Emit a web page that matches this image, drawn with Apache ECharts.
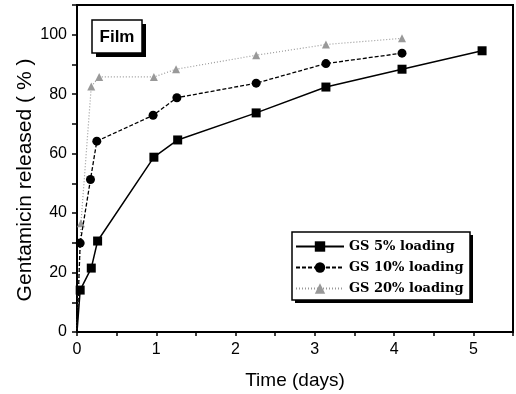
<!DOCTYPE html>
<html>
<head>
<meta charset="utf-8">
<script src="https://cdn.jsdelivr.net/npm/echarts@6/dist/echarts.min.js"></script>
<style>
  html, body { margin: 0; padding: 0; background: #fff; }
  #chart { width: 516px; height: 394px; }
</style>
</head>
<body>
<div id="chart"></div>
<script>
// release data (x = days, y = % released)
const seriesNames = ['GS 5% loading', 'GS 10% loading', 'GS 20% loading']
const days5 = [0, 0.04, 0.18, 0.26, 0.97, 1.27, 2.26, 3.14, 4.1, 5.11]
const gs5 = [0, 14.1, 21.5, 30.6, 58.8, 64.6, 73.7, 82.4, 88.4, 94.6]
const days10 = [0, 0.04, 0.17, 0.25, 0.96, 1.26, 2.26, 3.14, 4.1]
const gs10 = [0, 29.9, 51.3, 64.2, 72.9, 78.8, 83.7, 90.3, 93.8]
const days20 = [0, 0.05, 0.18, 0.28, 0.97, 1.25, 2.26, 3.14, 4.1]
const gs20 = [0, 36.6, 82.6, 85.8, 85.8, 88.4, 93.1, 96.7, 98.8]

const chart = echarts.init(document.getElementById('chart'))

// pair x/y, origin point drawn without a marker
const toData = (xs, ys) => xs.map((x, i) => (i === 0 ? { value: [x, ys[i]], symbol: 'none' } : [x, ys[i]]))

const font = 'Liberation Sans, Arial, sans-serif'

const option = {
  backgroundColor: '#fff',
  animation: false,
  grid: {
    left: 77,
    right: 3,
    top: 5,
    bottom: 62,
    show: true,
    borderColor: '#000',
    borderWidth: 2,
    outerBoundsMode: 'none',
  },
  legend: {
    orient: 'vertical',
    left: 295,
    top: 240,
    padding: 0,
    itemWidth: 48,
    itemHeight: 13,
    itemGap: 8,
    z: 20,
    data: seriesNames,
    textStyle: {
      fontFamily: "'DejaVu Serif', serif",
      fontWeight: 'bold',
      fontSize: 13,
      color: '#000',
    },
  },
  xAxis: {
    type: 'value',
    min: 0,
    max: 5.5,
    interval: 0.5,
    name: 'Time (days)',
    nameLocation: 'middle',
    nameGap: 39,
    nameTextStyle: { fontFamily: font, fontSize: 19, color: '#000' },
    axisLine: { lineStyle: { color: '#000', width: 2 } },
    axisTick: { length: 4, lineStyle: { color: '#000', width: 1.5 } },
    axisLabel: {
      margin: 10,
      fontFamily: font,
      fontSize: 16,
      color: '#000',
      formatter: (v) => (v % 1 === 0 ? String(v) : ''),
    },
    splitLine: { show: false },
  },
  yAxis: {
    type: 'value',
    min: 0,
    max: 110,
    interval: 10,
    axisLine: { lineStyle: { color: '#000', width: 2 } },
    axisTick: { length: 5, lineStyle: { color: '#000', width: 1.5 } },
    axisLabel: {
      margin: 10,
      fontFamily: font,
      fontSize: 16,
      color: '#000',
      formatter: (v) => (v % 20 === 0 && v <= 100 ? String(v) : ''),
    },
    splitLine: { show: false },
  },
  graphic: [
    // y axis title
    {
      type: 'text',
      x: 25,
      y: 180,
      rotation: Math.PI / 2,
      style: {
        text: 'Gentamicin released ( % )',
        font: '21px ' + font,
        fill: '#000',
        align: 'center',
        verticalAlign: 'middle',
      },
    },
    // "Film" label box with drop shadow
    { type: 'rect', shape: { x: 96, y: 24, width: 50, height: 33 }, style: { fill: '#000' }, z: 10 },
    { type: 'rect', shape: { x: 92, y: 20, width: 50, height: 33 }, style: { fill: '#fff', stroke: '#000', lineWidth: 1.5 }, z: 11 },
    {
      type: 'text',
      x: 117,
      y: 37,
      z: 12,
      style: { text: 'Film', font: 'bold 17px ' + font, fill: '#000', align: 'center', verticalAlign: 'middle' },
    },
    // legend frame with drop shadow
    { type: 'rect', shape: { x: 295, y: 235, width: 178, height: 68 }, style: { fill: '#000' }, z: 10 },
    { type: 'rect', shape: { x: 292, y: 232, width: 178, height: 68 }, style: { fill: '#fff', stroke: '#000', lineWidth: 1.5 }, z: 11 },
  ],
  series: [
    {
      name: seriesNames[0],
      type: 'line',
      data: toData(days5, gs5),
      symbol: 'rect',
      symbolSize: 9,
      itemStyle: { color: '#000' },
      lineStyle: { color: '#000', width: 1.5 },
      z: 5,
    },
    {
      name: seriesNames[1],
      type: 'line',
      data: toData(days10, gs10),
      symbol: 'circle',
      symbolSize: 9,
      itemStyle: { color: '#000' },
      lineStyle: { color: '#000', width: 1.3, type: [4, 2] },
      z: 4,
    },
    {
      name: seriesNames[2],
      type: 'line',
      data: toData(days20, gs20),
      symbol: 'triangle',
      symbolSize: 8,
      itemStyle: { color: '#999' },
      lineStyle: { color: '#999', width: 1.2, type: [1, 2] },
      z: 3,
    },
  ],
}

chart.setOption(option)
</script>
</body>
</html>
